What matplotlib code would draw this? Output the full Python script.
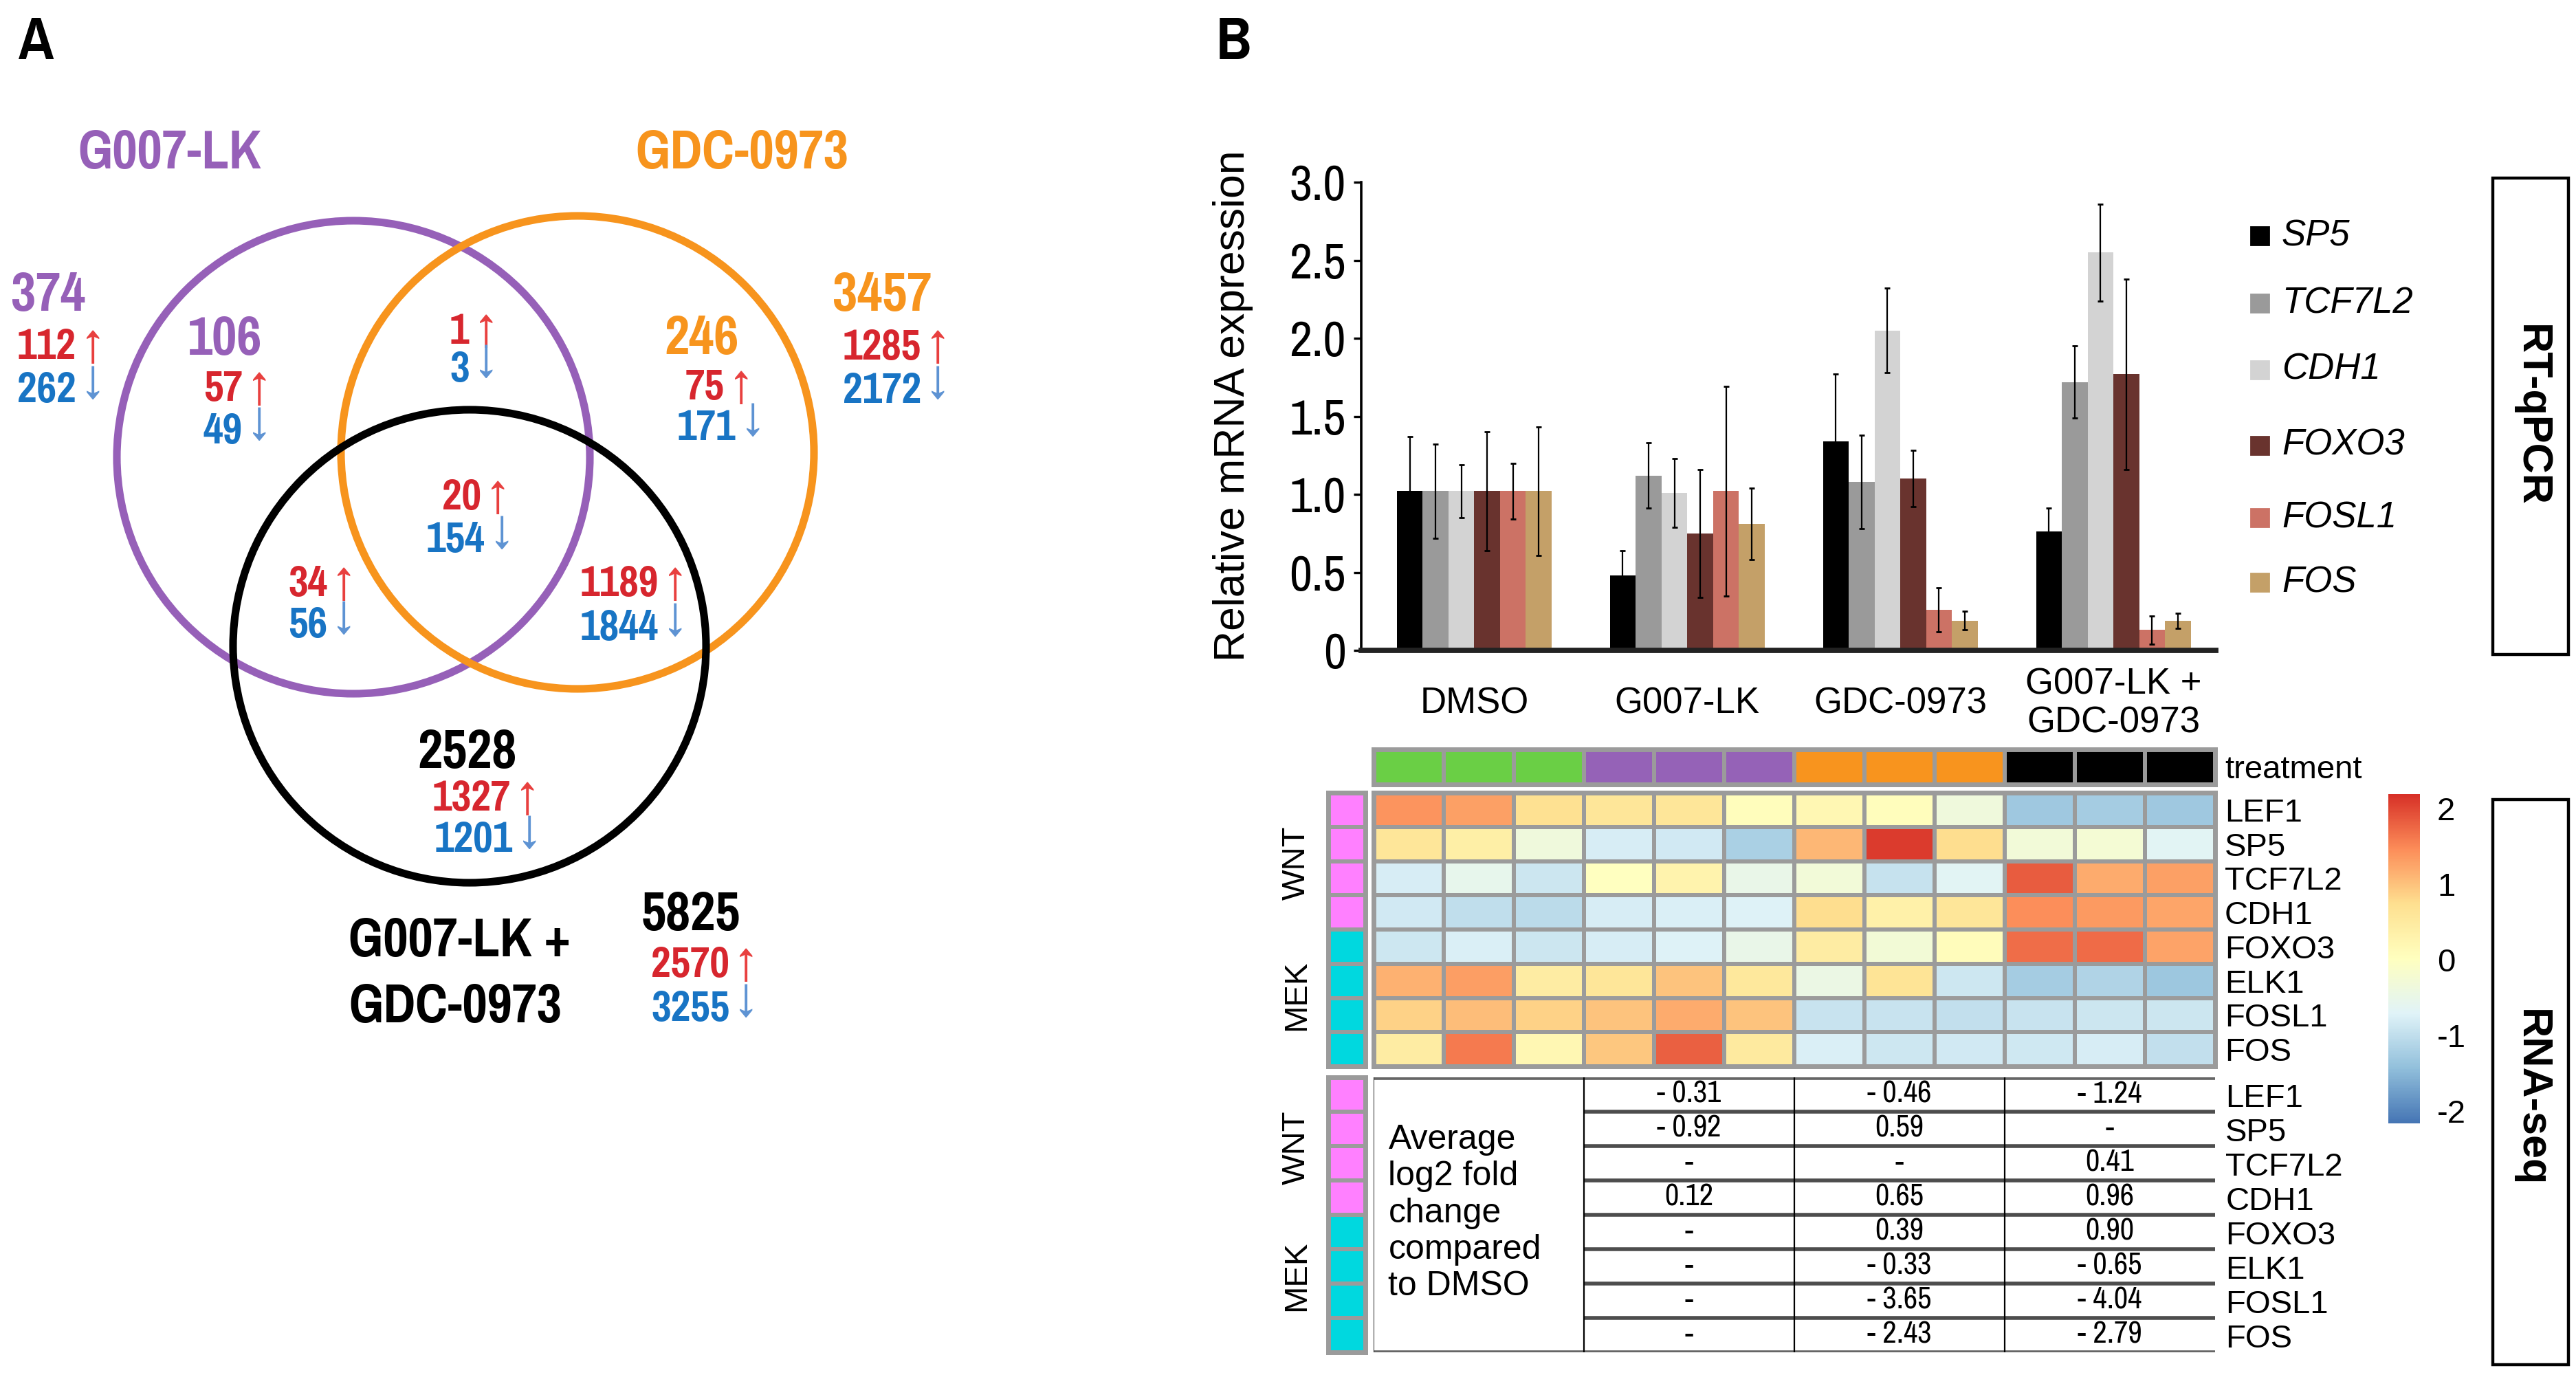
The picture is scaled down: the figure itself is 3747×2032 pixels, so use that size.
import numpy as np
import matplotlib
matplotlib.use('Agg')
import matplotlib.pyplot as plt
from matplotlib.patches import Circle, Rectangle
from matplotlib.colors import LinearSegmentedColormap, ListedColormap
from matplotlib import font_manager as fm

# ---------------- data ----------------
set_names = ['G007-LK', 'GDC-0973', 'G007-LK +\nGDC-0973']
set_total = [374, 3457, 5825]
set_up = [112, 1285, 2570]
set_down = [262, 2172, 3255]

region_total = [106, 246, 2528]
region_up = [57, 1, 75, 34, 20, 1189, 1327]
region_down = [49, 3, 171, 56, 154, 1844, 1201]

treatments = ['DMSO', 'G007-LK', 'GDC-0973', 'G007-LK +\nGDC-0973']
qpcr_genes = ['SP5', 'TCF7L2', 'CDH1', 'FOXO3', 'FOSL1', 'FOS']
sp5_mean = [1.02, 0.48, 1.34, 0.76]
sp5_err = [0.35, 0.16, 0.43, 0.15]
tcf7l2_mean = [1.02, 1.12, 1.08, 1.72]
tcf7l2_err = [0.30, 0.21, 0.30, 0.23]
cdh1_mean = [1.02, 1.01, 2.05, 2.55]
cdh1_err = [0.17, 0.22, 0.27, 0.31]
foxo3_mean = [1.02, 0.75, 1.10, 1.77]
foxo3_err = [0.38, 0.41, 0.18, 0.61]
fosl1_mean = [1.02, 1.02, 0.26, 0.13]
fosl1_err = [0.18, 0.67, 0.14, 0.09]
fos_mean = [1.02, 0.81, 0.19, 0.19]
fos_err = [0.41, 0.23, 0.06, 0.05]

heat_genes = ['LEF1', 'SP5', 'TCF7L2', 'CDH1', 'FOXO3', 'ELK1', 'FOSL1', 'FOS']
heat_pathway = ['WNT', 'WNT', 'WNT', 'WNT', 'MEK', 'MEK', 'MEK', 'MEK']
sample_treatment = [0, 0, 0, 1, 1, 1, 2, 2, 2, 3, 3, 3]
lef1_z = [1.40, 1.30, 0.70, 0.60, 0.60, 0.05, 0.20, 0.05, -0.35, -1.30, -1.25, -1.30]
sp5_z = [0.60, 0.40, -0.35, -0.80, -0.85, -1.20, 1.10, 2.10, 0.75, -0.30, -0.25, -0.65]
tcf7l2_z = [-0.80, -0.55, -0.90, 0.00, 0.30, -0.50, -0.30, -0.95, -0.65, 1.85, 1.20, 1.30]
cdh1_z = [-0.85, -1.00, -1.05, -0.80, -0.75, -0.72, 0.75, 0.35, 0.60, 1.45, 1.35, 1.25]
foxo3_z = [-0.87, -0.76, -0.90, -0.80, -0.72, -0.50, 0.45, -0.28, 0.08, 1.70, 1.72, 1.27]
elk1_z = [1.15, 1.32, 0.45, 0.60, 1.00, 0.55, -0.45, 0.65, -0.87, -1.25, -1.15, -1.32]
fosl1_z = [0.85, 1.05, 0.85, 1.00, 1.20, 1.00, -0.92, -0.92, -0.98, -0.92, -0.90, -0.90]
fos_z = [0.45, 1.60, 0.20, 0.95, 1.80, 0.50, -0.75, -0.87, -0.84, -0.86, -0.80, -0.98]

fc_g007 = [-0.31, -0.92, None, 0.12, None, None, None, None]
fc_gdc = [-0.46, 0.59, None, 0.65, 0.39, -0.33, -3.65, -2.43]
fc_combo = [-1.24, None, 0.41, 0.96, 0.90, -0.65, -4.04, -2.79]

# ---------------- style ----------------
W, H, DPI = 3748, 2032, 200
avail = {f.name for f in fm.fontManager.ttflist}
bold_fams = {f.name for f in fm.fontManager.ttflist
             if f.weight in (700, 'bold') and f.style == 'normal'}
REG = [f for f in ['Liberation Sans', 'Arimo', 'DejaVu Sans'] if f in avail]
nar_pref = ['Liberation Sans Narrow', 'Arial Narrow', 'Archivo Narrow', 'PT Sans Narrow',
            'Pragati Narrow', 'Roboto Condensed', 'Liberation Sans']
NAR = [f for f in nar_pref if f in avail][:1] + ['DejaVu Sans']
narb_pref = ['Liberation Sans Narrow', 'Arial Narrow', 'Pragati Narrow', 'PT Sans Narrow',
             'IBM Plex Sans Condensed', 'Fira Sans Condensed', 'Roboto Condensed',
             'Liberation Sans']
NARB = [f for f in narb_pref if f in bold_fams][:1] + ['DejaVu Sans']
plt.rcParams['font.family'] = REG

BIG = 31
SMALL = 24.5
ARROW = 19
PURPLE = '#9660B8'
ORANGE = '#F7941D'
RED = '#D7262E'
BLUE = '#1874C4'
RED_A = '#E8403F'
BLUE_A = '#5E93D3'
bar_colors = ['#000000', '#9A9A9A', '#D3D3D3', '#69332E', '#CC7265', '#C4A068']
treat_colors = ['#6ACF45', '#9562B7', '#F8941E', '#000000']
path_colors = {'WNT': '#FF80FF', 'MEK': '#00D8DF'}
GRID = '#9B9B9B'


def rect(x0, y0, x1, y1):
    return [x0 / W, 1 - y1 / H, (x1 - x0) / W, (y1 - y0) / H]


fig = plt.figure(figsize=(W / DPI, H / DPI), dpi=DPI)
bg = fig.add_axes([0, 0, 1, 1], zorder=0)
bg.set_xlim(0, W)
bg.set_ylim(H, 0)
bg.axis('off')

bg.text(53, 62, 'A', fontsize=34, fontweight='bold', family=NARB, ha='center', va='center')
bg.text(1794, 62, 'B', fontsize=34, fontweight='bold', family=NARB, ha='center', va='center')

circle_layout = [((514, 665), PURPLE), ((840, 658), ORANGE), ((683, 940), 'black')]
for (c, col) in circle_layout:
    bg.add_patch(Circle(c, 344, fill=False, ec=col, lw=4.0, zorder=2))


def count_line(xl, y, num, arrow, color, acolor, size=SMALL):
    t = bg.text(xl, y, str(num), ha='left', va='center', fontsize=size,
                fontweight='bold', color=color, family=NARB, zorder=3)
    dy = 0 if arrow == '\u2191' else 4
    bg.annotate(arrow, xy=(1, 0.5), xycoords=t, xytext=(4, dy),
                textcoords='offset points', ha='left', va='center',
                fontsize=ARROW, color=acolor, family=NAR, zorder=3)


bg.text(247, 223, set_names[0], fontsize=BIG, fontweight='bold', family=NARB,
        color=PURPLE, ha='center', va='center')
bg.text(1079, 223, set_names[1], fontsize=BIG, fontweight='bold', family=NARB,
        color=ORANGE, ha='center', va='center')
bg.text(507, 1417, set_names[2], fontsize=BIG, fontweight='bold', family=NARB,
        color='black', ha='left', va='center', linespacing=1.4)

total_layout = [((70, 430), (25, 505, 568), PURPLE),
                ((1283, 430), (1226, 505, 568), ORANGE),
                ((1005, 1331), (947, 1404, 1467), 'black')]
for i, ((tx, ty), (xl, yu, yd), col) in enumerate(total_layout):
    bg.text(tx, ty, str(set_total[i]), fontsize=BIG, fontweight='bold', family=NARB,
            color=col, ha='center', va='center')
    count_line(xl, yu, set_up[i], '\u2191', RED, RED_A)
    count_line(xl, yd, set_down[i], '\u2193', BLUE, BLUE_A)

region_total_layout = [((327, 494), PURPLE), ((1021, 493), ORANGE), ((680, 1095), 'black')]
for i, ((tx, ty), col) in enumerate(region_total_layout):
    bg.text(tx, ty, str(region_total[i]), fontsize=BIG, fontweight='bold', family=NARB,
            color=col, ha='center', va='center')

region_layout = [(296, 566, 296, 628), (654, 482, 654, 537), (997, 564, 985, 622),
                 (419, 850, 419, 910), (643, 724, 620, 786), (844, 850, 844, 913),
                 (629, 1162, 632, 1222)]
for i, (xu, yu, xd, yd) in enumerate(region_layout):
    count_line(xu, yu, region_up[i], '\u2191', RED, RED_A)
    count_line(xd, yd, region_down[i], '\u2193', BLUE, BLUE_A)

# ---------------- RT-qPCR bars ----------------
ax = fig.add_axes(rect(1980, 265, 3223, 946), zorder=2)
means = [sp5_mean, tcf7l2_mean, cdh1_mean, foxo3_mean, fosl1_mean, fos_mean]
errs = [sp5_err, tcf7l2_err, cdh1_err, foxo3_err, fosl1_err, fos_err]
xg = np.arange(len(treatments))
bw = 0.121
for i, (m, e, c, g) in enumerate(zip(means, errs, bar_colors, qpcr_genes)):
    ax.bar(xg + (i - 2.5) * bw, m, bw, color=c, label=g, yerr=e,
           error_kw=dict(elinewidth=0.8, capsize=1.6, capthick=1.0, ecolor='black'),
           zorder=2)
ax.set_xlim(-0.53, 3.48)
ax.set_ylim(0, 3.0)
ax.set_yticks([0, 0.5, 1.0, 1.5, 2.0, 2.5, 3.0])
ax.set_yticklabels(['0', '0.5', '1.0', '1.5', '2.0', '2.5', '3.0'], family=NAR, fontsize=26)
ax.tick_params(axis='y', length=4, width=1.2, pad=4)
ax.set_xticks(xg)
ax.set_xticklabels(treatments, fontsize=19, linespacing=1.15)
for lbl in ax.get_xticklabels():
    lbl.set_va('center')
ax.tick_params(axis='x', length=0, pad=28)
for s in ['top', 'right']:
    ax.spines[s].set_visible(False)
ax.spines['left'].set_linewidth(1.3)
ax.spines['bottom'].set_linewidth(2.8)
ax.spines['bottom'].set_color('#222222')
ax.patch.set_alpha(0)
fig.text(1794 / W, 1 - 590 / H, 'Relative mRNA expression', rotation=90,
         fontsize=22.5, ha='center', va='center')

leg_y = [343, 441, 538, 648, 753, 847]
for g, c, y in zip(qpcr_genes, bar_colors, leg_y):
    bg.add_patch(Rectangle((3274, y - 13), 26, 26, color=c, zorder=3))
    bg.text(3319, y, g, fontsize=19, style='italic', ha='left', va='center', zorder=3)

bg.add_patch(Rectangle((3626, 259), 110, 693, fill=False, ec='black', lw=1.6))
bg.add_patch(Rectangle((3626, 1163), 110, 822, fill=False, ec='black', lw=1.6))
bg.text(3681, 605, 'RT-qPCR', rotation=-90, fontsize=22, fontweight='bold',
        ha='center', va='center')
bg.text(3681, 1597, 'RNA-seq', rotation=-90, fontsize=22, fontweight='bold',
        ha='center', va='center')

# ---------------- heatmap ----------------
cmap = LinearSegmentedColormap.from_list(
    'pheat', ['#4575B4', '#91BFDB', '#E0F3F8', '#FFFFBF', '#FEE090', '#FC8D59', '#D73027'])
VMIN, VMAX = -2.16, 2.19

axt = fig.add_axes(rect(1998, 1090, 3222, 1141), zorder=2)
axt.pcolormesh(np.array([sample_treatment]), cmap=ListedColormap(treat_colors),
               vmin=-0.5, vmax=3.5, edgecolors=GRID, linewidth=1.6)
axt.set_xticks([])
axt.yaxis.tick_right()
axt.set_yticks([0.5])
axt.set_yticklabels(['treatment'], fontsize=17)
axt.tick_params(axis='y', length=0, pad=5)
for s in axt.spines.values():
    s.set_color(GRID)
    s.set_linewidth(2.5)

heat = np.array([lef1_z, sp5_z, tcf7l2_z, cdh1_z, foxo3_z, elk1_z, fosl1_z, fos_z])
axh = fig.add_axes(rect(1998, 1153, 3222, 1551), zorder=2)
mesh = axh.pcolormesh(heat, cmap=cmap, vmin=VMIN, vmax=VMAX, edgecolors=GRID, linewidth=1.6)
axh.set_ylim(len(heat_genes), 0)
axh.set_xticks([])
axh.yaxis.tick_right()
axh.set_yticks(np.arange(len(heat_genes)) + 0.5)
axh.set_yticklabels(heat_genes, fontsize=17)
axh.tick_params(axis='y', length=0, pad=5)
for s in axh.spines.values():
    s.set_color(GRID)
    s.set_linewidth(2.5)

path_idx = np.array([[0 if p == 'WNT' else 1] for p in heat_pathway])
path_cmap = ListedColormap([path_colors['WNT'], path_colors['MEK']])
axr = fig.add_axes(rect(1932, 1153, 1986, 1551), zorder=2)
axr.pcolormesh(path_idx, cmap=path_cmap, vmin=-0.5, vmax=1.5, edgecolors=GRID, linewidth=1.6)
axr.set_ylim(len(heat_genes), 0)
axr.set_xticks([])
axr.set_yticks([])
for s in axr.spines.values():
    s.set_color(GRID)
    s.set_linewidth(2.5)

bg.text(1886, 1255, 'WNT', rotation=90, fontsize=17, ha='center', va='center')
bg.text(1886, 1448, 'MEK', rotation=90, fontsize=17, ha='center', va='center')

cax = fig.add_axes(rect(3474, 1155, 3520, 1634), zorder=2)
cb = fig.colorbar(mesh, cax=cax)
cb.outline.set_visible(False)
cb.set_ticks([-2, -1, 0, 1, 2])
cb.set_ticklabels(['-2', '-1', '0', '1', '2'])
cb.ax.tick_params(length=0, pad=9, labelsize=17)

# ---------------- fold-change table ----------------
axtab = fig.add_axes(rect(1998, 1567, 3222, 1967), zorder=2)
n = len(heat_genes)
axtab.set_xlim(0, 4)
axtab.set_ylim(n, 0)
axtab.axis('off')
axtab.hlines(np.arange(1, n), 1, 4, color='#4D4D4D', lw=2.0)
axtab.hlines([0, n], 0, 4, color='#666666', lw=2.4)
axtab.vlines([1, 2, 3], 0, n, color='black', lw=0.8)
axtab.vlines([0], 0, n, color='black', lw=0.6)


def fmt(v):
    if v is None:
        return '-'
    return '- %.2f' % abs(v) if v < 0 else '%.2f' % v


for j, col in enumerate([fc_g007, fc_gdc, fc_combo]):
    for i, v in enumerate(col):
        axtab.text(j + 1.5, i + 0.5, fmt(v), ha='center', va='center',
                   fontsize=16, family=NAR)
axtab.text(0.07, n / 2 - 0.05, 'Average\nlog2 fold\nchange\ncompared\nto DMSO',
           ha='left', va='center', fontsize=18, linespacing=1.2)
for i, g in enumerate(heat_genes):
    axtab.text(4.05, i + 0.62, g, ha='left', va='center', fontsize=17)

axr2 = fig.add_axes(rect(1932, 1567, 1986, 1967), zorder=2)
axr2.pcolormesh(path_idx, cmap=path_cmap, vmin=-0.5, vmax=1.5, edgecolors=GRID, linewidth=1.6)
axr2.set_ylim(n, 0)
axr2.set_xticks([])
axr2.set_yticks([])
for s in axr2.spines.values():
    s.set_color(GRID)
    s.set_linewidth(2.5)
bg.text(1886, 1669, 'WNT', rotation=90, fontsize=17, ha='center', va='center')
bg.text(1886, 1856, 'MEK', rotation=90, fontsize=17, ha='center', va='center')

fig.savefig('out.png', dpi=DPI)
